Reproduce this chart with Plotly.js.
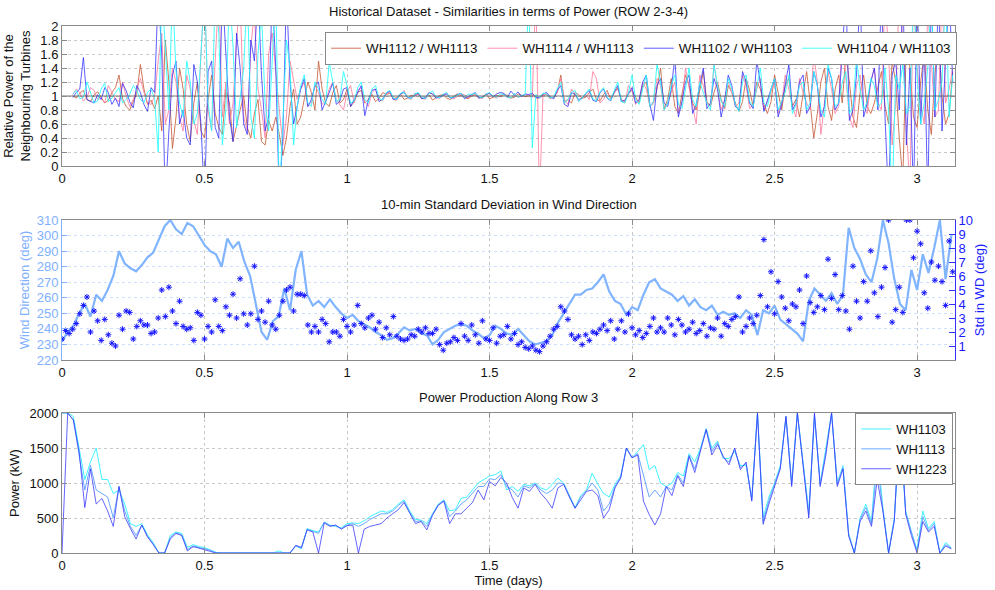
<!DOCTYPE html>
<html><head><meta charset="utf-8">
<script src="https://cdn.plot.ly/plotly-3.0.1.min.js"></script>
<style>html,body{margin:0;padding:0;background:#fff}#chart{width:995px;height:590px}</style>
</head><body><div id="chart"></div>
<script>
// ---------- DATA ----------
const xTicks = [0, 0.5, 1, 1.5, 2, 2.5, 3];
const xTickText = ['0', '0.5', '1', '1.5', '2', '2.5', '3'];
const refLevel = 1;

// Top panel: relative power ratios, sampled every 0.0125 day from t = 0.0375
const ratioStart = 0.0375, ratioStep = 0.0125;
const r1112_1113 = [
1.00,0.97,1.04,1.08,0.95,0.92,1.02,1.06, 0.98,0.90,0.94,1.05,1.12,1.30,0.96,0.85,
0.80,0.92,1.04,1.45,1.10,0.88,0.94,0.82, 1.00,0.50,1.80,1.20,0.25,0.70,1.40,1.10,
0.60,0.35,0.90,1.20,0.50,0.40,0.95,1.30, 0.75,0.55,0.45,1.10,0.90,0.35,0.60,0.80,
1.00,0.55,0.40,0.75,0.95,0.35,0.30,0.65, 0.50,0.70,0.45,0.15,0.40,0.85,1.10,0.60,
0.70,0.95,1.20,1.05,0.80,1.50,1.10,0.90, 0.85,1.05,1.15,0.90,0.95,1.10,0.85,0.92,
1.05,1.08,0.90,0.95,1.02,0.92,0.97,1.05, 1.02,1.04,0.96,0.98,1.03,0.95,0.97,1.01,
1.00,1.03,0.96,0.97,1.02,0.94,0.98,1.01, 1.02,0.97,0.95,1.00,1.03,1.01,0.98,0.96,
1.00,1.02,0.97,0.99,1.03,0.96,0.98,1.01, 0.99,1.02,1.01,0.97,0.98,1.03,1.01,0.99,
1.00,1.03,0.97,0.98,1.01,1.02,0.96,0.99, 1.05,1.30,0.92,0.95,0.90,1.05,1.02,0.97,
0.98,1.05,1.10,0.95,0.93,1.02,1.08,0.96, 1.04,1.12,0.95,0.92,1.05,1.08,0.98,0.90,
1.15,1.20,0.85,0.90,1.10,1.40,0.82,0.95, 1.25,0.85,0.75,1.05,1.30,1.15,0.90,0.80,
1.10,1.35,0.92,0.85,1.05,1.20,0.95,0.82, 1.15,1.05,0.90,0.78,0.92,1.25,1.08,0.85,
1.20,1.10,0.88,0.75,0.92,1.30,1.05,0.80, 1.15,1.25,0.85,0.95,0.70,1.05,1.35,0.90,
0.40,0.75,1.20,1.40,0.85,0.65,1.10,1.30, 0.90,1.60,1.20,0.70,0.55,1.05,1.30,0.85,
0.75,0.90,1.15,1.35,0.85,0.60,1.50,1.20, 0.40,-0.2,1.80,1.40,0.70,0.55,1.20,1.60,
0.80,0.45,1.30,1.90,1.00,0.60,0.75,1.35];
const r1114_1113 = [
1.02,1.10,1.05,0.93,0.98,1.12,1.08,0.95, 0.97,0.90,1.15,1.05,0.95,0.92,1.20,1.00,
0.85,0.95,1.10,1.25,1.05,0.90,0.88,1.00, 1.50,1.90,0.60,0.80,1.40,1.20,0.70,0.50,
1.30,1.10,0.65,0.45,1.60,2.50,0.80,0.50, 1.50,2.50,0.70,1.20,0.60,0.90,1.80,2.40,
0.70,0.50,1.70,2.20,1.10,0.80,0.40,1.60, 1.90,1.30,0.80,0.30,0.70,1.50,1.20,0.95,
1.10,1.20,0.85,0.90,1.15,1.05,0.88,0.92, 1.10,1.20,0.95,0.88,0.80,1.05,1.15,0.90,
1.08,1.12,0.92,0.85,1.05,1.10,0.95,0.93, 1.03,1.06,0.95,0.94,1.02,1.08,0.97,0.95,
1.04,1.02,0.97,0.95,1.05,1.03,0.98,0.96, 1.02,1.04,0.98,0.96,0.99,1.03,1.02,0.97,
1.03,1.01,0.98,0.96,1.02,1.04,0.99,0.97, 1.01,1.03,0.98,0.97,1.02,0.98,1.00,1.02,
1.00,0.98,2.50,-0.5,1.02,1.03,0.99,0.97, 1.05,1.25,0.95,0.88,1.10,1.03,0.92,0.97,
1.02,0.95,1.35,1.25,0.90,0.95,1.05,0.98, 1.05,1.10,0.93,0.90,1.15,1.08,0.88,0.95,
1.20,1.10,0.85,0.92,1.25,1.15,0.80,0.90, 1.05,1.20,0.75,0.90,1.40,1.10,0.85,0.60,
1.30,1.15,0.90,0.85,1.45,1.10,0.80,0.95, 1.20,1.05,0.85,0.90,1.30,1.15,0.82,0.88,
1.10,1.25,0.80,0.92,1.05,1.20,0.75,0.90, 1.30,1.10,0.85,0.70,1.25,1.05,0.90,0.80,
1.60,1.20,0.45,0.90,1.35,1.10,0.75,0.85, 1.90,1.25,0.70,0.55,1.15,1.30,0.85,0.75,
1.20,1.40,0.90,0.80,2.50,1.60,0.30,0.90, 2.50,1.80,0.50,-0.3,2.50,1.40,0.90,0.60,
2.20,1.50,0.70,0.80,2.50,0.90,1.10,1.40];
const r1102_1103 = [
0.98,1.05,1.10,1.55,0.95,0.92,0.90,1.02, 0.95,1.12,1.05,0.88,0.97,0.85,1.18,1.08,
0.92,0.83,1.15,1.05,0.88,0.78,1.12,1.05, 2.50,1.60,-0.5,0.50,1.30,1.50,0.60,0.80,
0.40,0.30,1.45,1.20,0.60,-0.5,1.35,1.50, 0.55,0.40,2.50,1.60,0.70,0.35,1.90,1.40,
0.60,0.45,1.80,1.50,2.50,1.30,0.50,0.70, 2.50,1.40,-0.5,0.45,2.50,1.20,0.60,0.85,
1.10,1.25,0.85,0.95,1.15,1.20,0.80,0.92, 1.05,1.18,0.88,0.93,1.10,1.12,0.85,0.95,
1.05,1.15,0.72,0.95,1.08,1.10,0.92,0.96, 1.04,1.07,0.95,0.96,1.03,1.05,0.98,0.97,
1.02,1.04,0.96,0.98,1.05,1.03,0.97,0.99, 1.01,1.03,0.97,0.98,1.02,1.04,0.96,0.99,
1.03,1.05,0.97,0.98,1.02,1.04,0.99,1.03, 1.05,1.04,0.98,1.07,1.01,1.06,0.99,1.03,
1.02,1.04,0.98,0.97,1.03,1.05,0.99,0.96, 1.08,1.15,0.88,0.85,1.05,1.02,0.95,0.97,
1.03,1.08,0.94,0.92,1.05,1.10,0.97,0.93, 1.06,1.15,0.92,0.94,1.03,1.12,0.90,0.95,
1.20,1.30,0.88,0.65,1.15,1.25,0.90,0.85, 1.10,1.55,0.70,0.92,1.20,1.30,0.75,0.88,
1.15,1.40,0.82,0.90,1.25,1.10,0.70,0.95, 1.30,1.15,0.85,0.80,1.35,1.20,0.90,0.82,
1.50,1.20,0.78,0.95,1.10,1.25,0.70,0.88, 1.15,1.45,0.80,0.90,1.20,1.30,0.75,0.85,
1.35,1.15,0.70,0.85,1.40,1.25,0.80,0.90, 1.60,2.50,0.65,0.80,1.30,2.50,0.70,0.90,
1.20,1.40,0.80,2.50,0.70,-0.5,1.30,1.50, 0.80,2.50,0.30,1.40,-0.5,2.50,0.60,1.80,
-0.5,2.50,0.70,2.50,0.50,1.60,2.50,1.20];
const r1104_1103 = [
1.03,1.08,0.96,0.98,1.20,1.05,0.90,0.93, 1.10,1.18,0.92,0.97,1.05,1.12,0.90,0.95,
1.02,1.15,1.08,0.95,0.90,1.05,1.10,0.97, 0.20,2.50,1.70,0.80,2.50,1.35,0.90,0.70,
1.50,1.20,0.60,0.75,1.60,2.50,0.90,0.50, 2.50,1.90,0.30,0.80,2.50,1.70,0.55,1.00,
1.40,2.50,0.70,0.40,1.60,2.20,0.90,0.50, 1.50,2.50,-0.5,0.60,1.80,1.40,0.30,0.85,
1.15,1.30,0.90,0.85,1.20,1.10,0.95,0.88, 1.48,1.20,0.92,0.95,1.35,1.15,0.90,0.93,
1.12,1.20,0.95,0.90,1.10,1.15,0.97,0.94, 1.05,1.08,0.97,0.95,1.04,1.06,0.98,0.96,
1.03,1.05,0.98,0.96,1.04,1.07,0.99,0.97, 1.03,1.05,0.97,0.99,1.02,1.04,0.98,1.03,
1.02,1.04,0.99,0.97,1.03,1.05,1.00,0.98, 1.03,1.02,0.99,0.97,1.04,0.98,1.01,1.02,
2.50,0.26,1.02,0.98,1.04,1.03,0.97,0.99, 1.10,1.20,0.90,0.95,1.05,1.08,0.92,0.97,
1.04,1.10,0.96,0.93,1.06,1.12,0.98,0.94, 1.08,1.20,0.92,0.90,1.05,1.30,0.95,0.88,
1.10,1.30,0.85,0.92,1.45,1.20,0.80,0.90, 1.15,1.30,0.88,0.82,1.10,1.40,0.95,0.85,
1.20,1.05,0.90,0.80,1.45,1.15,0.92,0.85, 1.25,1.10,0.88,0.78,1.20,1.30,0.92,0.85,
1.15,1.40,0.90,0.85,1.10,1.25,0.80,0.92, 1.05,1.30,0.75,0.88,1.15,1.20,0.80,0.90,
1.35,1.15,0.80,0.70,1.45,1.25,0.85,0.90, 1.20,1.35,0.75,0.85,1.55,1.10,0.80,0.92,
1.25,1.15,0.85,0.90,1.40,0.80,-0.5,1.30, 1.10,1.45,0.75,0.85,2.50,1.30,0.60,0.90,
1.40,2.50,0.80,0.95,1.20,2.50,0.70,1.30];

// Middle panel: wind direction every 0.02 day from t = 0
const wdStep = 0.02;
const windDir = [
232,238,242,250,256,248,262,258,265,274, 290,282,279,277,281,286,289,298,306,310,
304,301,308,306,300,294,290,288,280,298, 292,296,283,274,256,238,233,245,248,266,
252,278,290,262,255,258,254,259,254,250, 247,249,245,243,241,238,236,233,234,237,
241,239,240,237,236,230,233,238,240,242, 243,242,239,237,234,236,242,240,237,236,
240,236,232,230,231,232,236,244,250,256, 262,262,265,266,270,275,264,258,256,249,
254,252,262,270,272,266,264,262,258,261, 255,259,254,252,255,249,251,249,250,247,
252,249,236,252,250,255,246,243,240,237, 232,258,266,262,258,263,256,262,305,292,
285,275,270,285,310,295,272,256,252,278, 265,288,276,292,310,272,300];
// Std in wind direction every 0.0125 day from t = 0
const stdStep = 0.0125;
const stdWD = [
1.5,2.1,1.9,2.2,2.6,3.3,3.9,4.5, 2.0,3.5,2.8,1.4,2.9,1.8,1.2,1.0,
3.2,2.2,3.5,3.4,1.5,2.4,2.8,2.5, 2.5,1.9,2.0,3.0,5.0,3.1,5.2,3.5,
2.6,4.2,2.4,2.2,2.3,1.4,3.4,3.2, 1.5,2.4,2.0,4.3,2.4,2.1,3.8,3.2,
4.7,3.0,5.8,3.3,2.5,3.3,6.7,2.9, 3.5,2.7,4.2,2.5,2.2,3.2,4.2,5.0,
5.2,3.5,4.7,4.7,4.6,2.5,2.0,2.4, 2.0,2.9,2.6,1.3,2.0,2.0,1.7,2.9,
2.4,2.0,2.5,3.9,2.6,2.3,3.0,3.2, 2.2,2.7,1.6,2.3,1.8,3.1,1.7,1.5,
1.4,1.5,1.8,1.7,2.2,2.0,2.3,1.9, 1.9,2.2,1.1,0.7,1.2,1.3,1.6,1.4,
2.6,1.7,1.4,2.5,1.8,1.2,2.8,1.5, 1.4,2.3,1.2,1.7,1.8,2.4,1.5,1.9,
1.1,1.3,0.9,0.8,1.0,0.7,0.6,1.0, 1.3,1.7,2.2,2.4,3.8,3.5,2.9,1.8,
1.5,1.7,1.1,1.8,1.4,2.0,1.9,2.2, 2.5,2.1,2.8,1.5,2.2,2.8,2.0,3.3,
2.3,1.8,2.1,1.6,1.9,2.4,3.0,2.0, 2.3,2.0,3.0,2.5,1.8,2.9,2.5,2.0,
2.2,2.7,1.9,2.1,2.6,1.7,2.3,2.2, 3.0,1.7,2.6,2.4,2.9,3.1,4.5,2.0,
2.4,3.0,2.6,3.2,4.6,8.6,3.8,6.3, 3.3,5.6,4.5,3.7,2.8,4.0,3.8,5.0,
2.6,6.0,4.1,3.4,3.8,4.6,3.6,7.2, 4.4,6.1,3.6,4.6,3.5,2.2,6.7,4.2,
3.0,5.6,4.2,7.8,4.8,3.1,5.2,6.6, 10.0,2.7,3.6,5.2,3.4,10.0,10.0,7.3,
9.2,8.3,4.8,3.7,7.0,5.7,6.7,5.6, 3.9,8.5,6.3];

// Bottom panel: power (kW) every 0.02 day from t = 0
const powStep = 0.02;
const wh1103 = [
2000,2000,1950,1500,1050,1300,1500,1050,1050,850, 900,700,420,380,420,260,150,0,0,250,
300,280,80,120,90,80,50,10,0,0, 0,0,0,0,0,0,0,0,30,0,
0,100,60,350,320,300,440,400,380,360, 420,430,420,460,520,560,600,580,620,700,
760,600,480,470,420,560,700,760,600,620, 780,800,900,1000,1050,1100,1120,1170,900,950,
880,980,960,1000,930,900,980,1070,1000,820, 650,820,900,1140,980,850,800,980,1100,1500,
1360,1450,1550,1190,1250,1000,950,1000,1150,1100, 1420,1300,1500,1780,1500,1600,1350,1350,1450,1250,
1250,780,2000,500,800,1000,1250,1950,1000,2000, 1300,600,1950,1000,1500,2000,1000,1250,280,0,
500,700,450,1500,650,0,500,1700,600,300, 50,600,350,450,0,150,80];
const wh1113 = [
2000,2000,1900,1400,900,1250,900,850,800,500, 950,600,380,250,400,240,130,0,0,220,
290,260,50,100,80,60,40,0,0,0, 0,0,0,0,0,0,0,0,0,0,
0,100,70,340,310,280,440,390,390,350, 400,420,380,420,480,520,560,560,600,680,
740,580,450,460,380,550,690,750,520,600, 700,760,850,950,950,1060,1050,1120,950,900,
800,960,930,990,900,850,900,1000,990,810, 640,800,890,1000,900,600,700,950,1080,1500,
1360,1420,1100,800,900,800,950,900,1120,1000, 1400,1200,1480,1770,1450,1580,1360,1300,1480,1220,
1280,760,2000,450,750,980,1220,1950,980,2000, 1250,550,1980,980,1450,2000,980,1220,260,0,
480,650,420,1300,620,0,480,1900,580,280, 20,520,320,420,0,120,70];
const wh1223 = [
0,2000,1900,1450,650,1200,700,780,600,380, 950,520,350,200,400,230,120,0,0,200,
280,250,30,90,70,50,30,0,0,0, 0,0,0,0,0,0,0,0,0,0,
0,110,80,330,300,0,430,380,400,340, 390,400,0,340,380,400,420,500,560,620,
720,560,420,450,330,540,680,740,420,560, 560,640,720,900,760,1020,960,1080,1000,790,
640,930,880,980,850,760,640,930,980,800, 640,760,880,900,820,500,620,930,1070,1500,
1360,1400,740,550,400,560,950,820,1100,950, 1380,1150,1450,1760,1400,1550,1380,1260,1500,1190,
1300,740,2000,410,700,950,1200,1950,950,2000, 1200,500,2000,950,1400,2000,950,1200,240,0,
450,600,380,1050,600,0,450,2000,550,250, 0,450,300,380,0,100,60];

// ---------- BUILD ----------
const idx = (n, t0, dt) => Array.from({length: n}, (_, i) => +(t0 + i * dt).toFixed(5));
const tRatio = idx(r1112_1113.length, ratioStart, ratioStep);
const tWD = idx(windDir.length, 0, wdStep);
const tStd = idx(stdWD.length, 0, stdStep);
const tPow = idx(wh1223.length, 0, powStep);

const FONT = 'Liberation Sans, Arial, sans-serif';
const X_MAX = 3.133;

const traces = [
  {x: tRatio, y: r1112_1113, name: 'WH1112 / WH1113', type: 'scatter', mode: 'lines',
   line: {color: '#c86040', width: 1}, opacity: 0.85, xaxis: 'x', yaxis: 'y', legend: 'legend'},
  {x: tRatio, y: r1114_1113, name: 'WH1114 / WH1113', type: 'scatter', mode: 'lines',
   line: {color: '#ff7fa0', width: 1}, opacity: 0.85, xaxis: 'x', yaxis: 'y', legend: 'legend'},
  {x: tRatio, y: r1102_1103, name: 'WH1102 / WH1103', type: 'scatter', mode: 'lines',
   line: {color: '#2a2aff', width: 1}, opacity: 0.75, xaxis: 'x', yaxis: 'y', legend: 'legend'},
  {x: tRatio, y: r1104_1103, name: 'WH1104 / WH1103', type: 'scatter', mode: 'lines',
   line: {color: '#22ffff', width: 1}, opacity: 0.85, xaxis: 'x', yaxis: 'y', legend: 'legend'},
  {x: [0, X_MAX], y: [refLevel, refLevel], type: 'scatter', mode: 'lines', showlegend: false,
   line: {color: '#555555', width: 1}, opacity: 0.8, xaxis: 'x', yaxis: 'y', hoverinfo: 'skip'},

  {x: tWD, y: windDir, name: 'Wind Direction', type: 'scatter', mode: 'lines', showlegend: false,
   line: {color: '#80b4ff', width: 2.2}, xaxis: 'x2', yaxis: 'y2'},
  {x: tStd, y: stdWD, name: 'Std in WD', type: 'scatter', mode: 'markers', showlegend: false,
   marker: {symbol: 'asterisk-open', size: 5, color: '#1414ff', line: {color: '#1414ff', width: 1}},
   xaxis: 'x2', yaxis: 'y4'},

  {x: tPow, y: wh1103, name: 'WH1103', type: 'scatter', mode: 'lines',
   line: {color: '#40f4ff', width: 1}, xaxis: 'x3', yaxis: 'y3', legend: 'legend2'},
  {x: tPow, y: wh1113, name: 'WH1113', type: 'scatter', mode: 'lines',
   line: {color: '#6aa8ff', width: 1}, xaxis: 'x3', yaxis: 'y3', legend: 'legend2'},
  {x: tPow, y: wh1223, name: 'WH1223', type: 'scatter', mode: 'lines',
   line: {color: '#3030ff', width: 1}, opacity: 0.75, xaxis: 'x3', yaxis: 'y3', legend: 'legend2'}
];

const L = 62, R = 40, T = 26, B = 37, H = 590, W = 995;
const PH = H - T - B, PW = W - L - R;
const dom = (topPx, botPx) => [(H - B - botPx) / PH, (H - B - topPx) / PH];

const baseX = {
  range: [0, X_MAX], tickvals: xTicks, ticktext: xTickText, ticks: 'inside', ticklen: 5,
  showline: true, mirror: 'ticks', linecolor: '#8a8a8a', linewidth: 1, tickcolor: '#8a8a8a',
  showgrid: true, gridcolor: '#c8c8c8', griddash: 'dot', zeroline: false,
  tickfont: {family: FONT, size: 13, color: '#111'}
};
const baseY = {
  ticks: 'inside', ticklen: 5, showline: true, mirror: 'ticks', linecolor: '#8a8a8a',
  linewidth: 1, tickcolor: '#8a8a8a', showgrid: true, gridcolor: '#c8c8c8', griddash: 'dot',
  zeroline: false, tickfont: {family: FONT, size: 13, color: '#111'}, automargin: false
};

const layout = {
  width: W, height: H, paper_bgcolor: '#fff', plot_bgcolor: '#fff',
  margin: {l: L, r: R, t: T, b: B}, font: {family: FONT, size: 13, color: '#111'},
  xaxis: Object.assign({}, baseX, {domain: [0, 1], anchor: 'y'}),
  yaxis: Object.assign({}, baseY, {domain: dom(26, 166), anchor: 'x', range: [0, 2],
    tickvals: [0,0.2,0.4,0.6,0.8,1,1.2,1.4,1.6,1.8,2],
    ticktext: ['0','0.2','0.4','0.6','0.8','1','1.2','1.4','1.6','1.8','2'],
    title: {text: 'Relative Power of the<br>Neighbouring Turbines', font: {family: FONT, size: 13, color: '#111'}, standoff: 6}}),
  xaxis2: Object.assign({}, baseX, {domain: [0, 1], anchor: 'y2'}),
  yaxis2: Object.assign({}, baseY, {domain: dom(220, 360), anchor: 'x2', range: [220, 310], dtick: 10,
    mirror: false, linecolor: '#80b0ff', tickcolor: '#80b0ff', gridcolor: '#cfe0ff',
    tickfont: {family: FONT, size: 13, color: '#80b0ff'},
    title: {text: 'Wind Direction (deg)', font: {family: FONT, size: 13, color: '#80b0ff'}, standoff: 4}}),
  yaxis4: {overlaying: 'y2', side: 'right', anchor: 'x2', range: [0, 10],
    tickvals: [1,2,3,4,5,6,7,8,9,10], ticks: 'inside', ticklen: 6, showline: true,
    linecolor: '#3030ff', tickcolor: '#3030ff', showgrid: false, zeroline: false, automargin: false,
    tickfont: {family: FONT, size: 13, color: '#1a1aff'},
    title: {text: 'Std in WD (deg)', font: {family: FONT, size: 13, color: '#1a1aff'}, standoff: 2}},
  xaxis3: Object.assign({}, baseX, {domain: [0, 1], anchor: 'y3',
    title: {text: 'Time (days)', font: {family: FONT, size: 13, color: '#111'}, standoff: 2}}),
  yaxis3: Object.assign({}, baseY, {domain: dom(413, 553), anchor: 'x3', range: [0, 2000], dtick: 500,
    title: {text: 'Power (kW)', font: {family: FONT, size: 13, color: '#111'}, standoff: 6}}),
  legend: {orientation: 'h', x: (325 - L) / PW, xanchor: 'left', y: (H - B - 32) / PH, yanchor: 'top',
    bgcolor: '#fff', bordercolor: '#888', borderwidth: 1, font: {family: FONT, size: 13.4, color: '#111'}},
  legend2: {orientation: 'v', x: 0.998, xanchor: 'right', y: (H - B - 413) / PH, yanchor: 'top',
    bgcolor: '#fff', bordercolor: '#888', borderwidth: 1, tracegroupgap: 0,
    font: {family: FONT, size: 13, color: '#111'}},
  annotations: [
    {text: 'Historical Dataset - Similarities in terms of Power (ROW 2-3-4)', xref: 'paper', yref: 'paper',
     x: 0.5, y: (H - B - 12) / PH, xanchor: 'center', yanchor: 'middle', showarrow: false,
     font: {family: FONT, size: 13, color: '#111'}},
    {text: '10-min Standard Deviation in Wind Direction', xref: 'paper', yref: 'paper',
     x: 0.5, y: (H - B - 204) / PH, xanchor: 'center', yanchor: 'middle', showarrow: false,
     font: {family: FONT, size: 13, color: '#111'}},
    {text: 'Power Production Along Row 3', xref: 'paper', yref: 'paper',
     x: 0.5, y: (H - B - 398) / PH, xanchor: 'center', yanchor: 'middle', showarrow: false,
     font: {family: FONT, size: 13, color: '#111'}}
  ]
};

Plotly.newPlot('chart', traces, layout, {displayModeBar: false, staticPlot: true});
</script></body></html>
